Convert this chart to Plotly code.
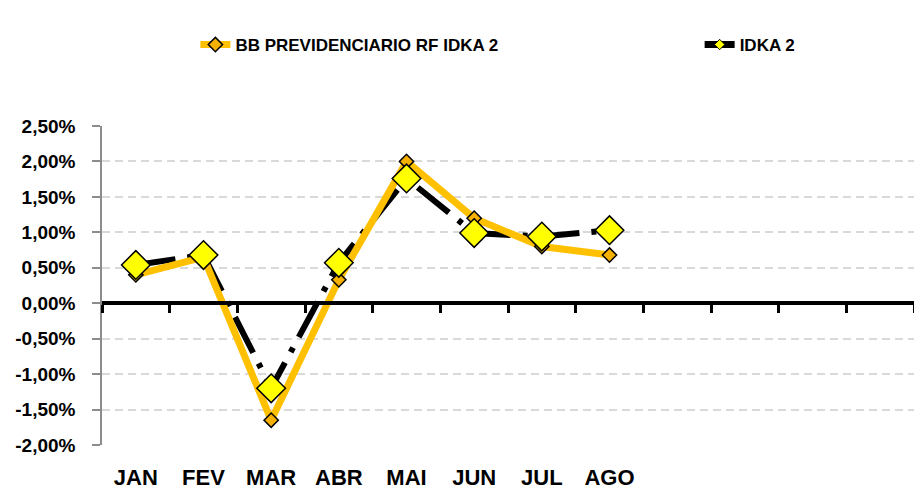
import plotly.graph_objects as go

months = ["JAN", "FEV", "MAR", "ABR", "MAI", "JUN", "JUL", "AGO", "SET", "OUT", "NOV", "DEZ"]
tick_labels = ["JAN", "FEV", "MAR", "ABR", "MAI", "JUN", "JUL", "AGO", "", "", "", ""]
bb_name = "BB PREVIDENCIARIO RF IDKA 2"
idka_name = "IDKA 2"
bb_values = [0.40, 0.65, -1.65, 0.33, 2.00, 1.20, 0.80, 0.68]
idka_values = [0.54, 0.68, -1.20, 0.57, 1.76, 0.99, 0.94, 1.03]
y_ticks = [-2.0, -1.5, -1.0, -0.5, 0.0, 0.5, 1.0, 1.5, 2.0, 2.5]
y_tick_text = [("%.2f" % v).replace(".", ",") + "%" for v in y_ticks]

FONT = "Liberation Sans, Arial, sans-serif"
ORANGE = "#FFC000"
n = len(bb_values)

fig = go.Figure()
# IDKA dashed line (behind)
fig.add_trace(go.Scatter(
    x=months[:n], y=idka_values, mode="lines", showlegend=False,
    line=dict(color="black", width=6, dash="40px,12px,5px,12px"),
    hoverinfo="skip"))
# BB series
fig.add_trace(go.Scatter(
    x=months[:n], y=bb_values, mode="lines+markers", name=bb_name, legend="legend",
    line=dict(color=ORANGE, width=7),
    marker=dict(symbol="diamond", size=11, color="#F5B000", line=dict(color="black", width=1.5))))
# IDKA markers on top
fig.add_trace(go.Scatter(
    x=months[:n], y=idka_values, mode="markers", showlegend=False,
    marker=dict(symbol="diamond", size=22, color="#FFFF00", line=dict(color="black", width=1.5))))
# IDKA legend entry
fig.add_trace(go.Scatter(
    x=[None], y=[None], mode="lines+markers", name=idka_name, legend="legend2",
    line=dict(color="black", width=7),
    marker=dict(symbol="diamond", size=8, color="#FFFF00", line=dict(color="black", width=1))))
# zero-line axis with boundary ticks
fig.add_trace(go.Scatter(x=months, y=[None] * len(months), xaxis="x2", showlegend=False, hoverinfo="skip"))

legend_font = dict(family=FONT, size=17, color="black", weight="bold")
fig.update_layout(
    width=914, height=491,
    margin=dict(l=102, r=0, t=126, b=46, autoexpand=False),
    paper_bgcolor="white", plot_bgcolor="white",
    font=dict(family=FONT, color="black"),
    showlegend=True,
    legend=dict(orientation="h", x=0.115, y=1.254, xanchor="left", yanchor="middle",
                font=legend_font, bgcolor="rgba(0,0,0,0)"),
    legend2=dict(orientation="h", x=0.736, y=1.254, xanchor="left", yanchor="middle",
                 font=legend_font, bgcolor="rgba(0,0,0,0)"),
    xaxis=dict(type="category", categoryorder="array", categoryarray=months,
               tickmode="array", tickvals=months, ticktext=tick_labels,
               range=[-0.5, 11.5], showline=False, showgrid=False, ticks="",
               ticklabelstandoff=17, zeroline=False, automargin=False,
               tickfont=dict(family=FONT, size=22, color="black", weight="bold")),
    xaxis2=dict(type="category", categoryorder="array", categoryarray=months, overlaying="x",
                matches="x", anchor="free", position=2.0 / 4.5, side="bottom",
                showline=True, linecolor="black", linewidth=4, showgrid=False,
                ticks="outside", tickson="boundaries", ticklen=8, tickwidth=3, tickcolor="black",
                showticklabels=False, automargin=False),
    yaxis=dict(range=[-2.0, 2.5], tickmode="array", tickvals=y_ticks, ticktext=y_tick_text,
               showgrid=True, gridcolor="#D9D9D9", gridwidth=2, griddash="8px,5px",
               showline=True, linecolor="#8C8C8C", linewidth=1.5,
               ticks="outside", ticklen=8, tickcolor="#8C8C8C", tickwidth=1.5,
               zeroline=False, automargin=False, ticklabelstandoff=13,
               tickfont=dict(family=FONT, size=19, color="black", weight="bold")),
)

fig.write_html("out.html", config={"displayModeBar": False},
               post_script="document.body.style.margin='0px';")
